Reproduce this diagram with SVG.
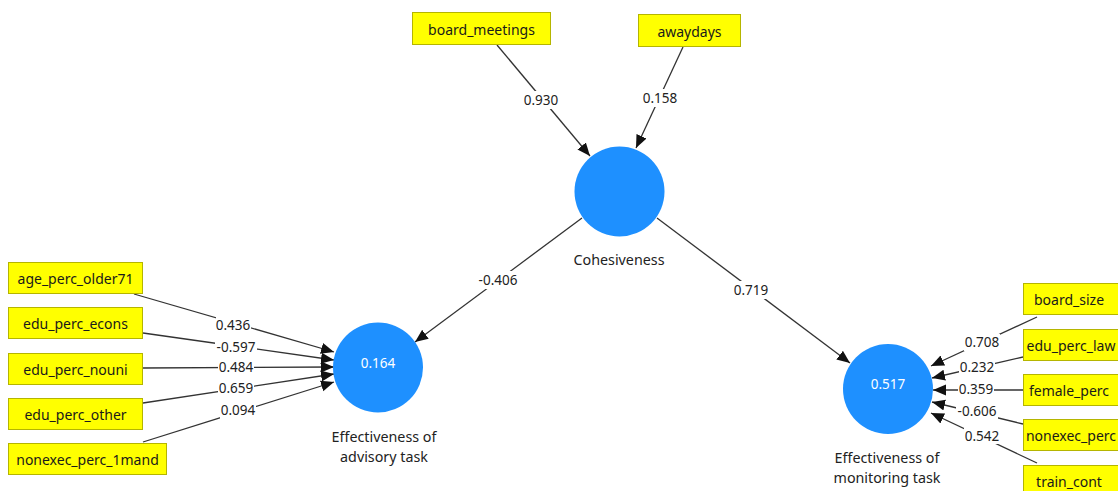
<svg xmlns="http://www.w3.org/2000/svg" width="1118" height="491" viewBox="0 0 1118 491">
<style>
.box{fill:#FFFF00;stroke:#B5B500;stroke-width:1}
.bt{font-family:"Noto Sans","DejaVu Sans",sans-serif;font-size:14px;fill:#1a1a1a;text-anchor:middle;dominant-baseline:central}
.lv{fill:#1E90FF}
.lvt{font-family:"Noto Sans","DejaVu Sans",sans-serif;font-size:13.5px;fill:#ffffff;text-anchor:middle;dominant-baseline:central}
.cap{font-family:"Noto Sans","DejaVu Sans",sans-serif;font-size:14.3px;fill:#222;text-anchor:middle}
.ln{stroke:#333;stroke-width:1.3;fill:none;marker-end:url(#ah)}
.lb{font-family:"Noto Sans","DejaVu Sans",sans-serif;font-size:13.5px;fill:#222;text-anchor:middle;dominant-baseline:central}
.bg{fill:#ffffff}
</style>
<defs>
<marker id="ah" markerUnits="userSpaceOnUse" markerWidth="15" markerHeight="13" refX="13" refY="5.5" orient="auto">
<path d="M0,0 L13,5.5 L0,11 Z" fill="#111"/>
</marker>
</defs>
<rect width="1118" height="491" fill="#ffffff"/>
<g id="connectors">
<line class="ln" x1="497" y1="45" x2="590" y2="156"/>
<line class="ln" x1="683" y1="47" x2="636" y2="148"/>
<line class="ln" x1="582" y1="218" x2="415" y2="342"/>
<line class="ln" x1="657" y1="218" x2="850" y2="363"/>
<line class="ln" x1="134" y1="294" x2="334" y2="352"/>
<line class="ln" x1="143" y1="333" x2="334" y2="360"/>
<line class="ln" x1="143" y1="368" x2="334" y2="367"/>
<line class="ln" x1="143" y1="403" x2="334" y2="374"/>
<line class="ln" x1="143" y1="442" x2="334" y2="382"/>
<line class="ln" x1="1037" y1="317" x2="931" y2="366"/>
<line class="ln" x1="1023" y1="357" x2="932" y2="378"/>
<line class="ln" x1="1023" y1="390" x2="933" y2="390"/>
<line class="ln" x1="1023" y1="424" x2="932" y2="402"/>
<line class="ln" x1="1037" y1="463" x2="931" y2="413"/>
<g id="labels">
<rect class="bg" x="523" y="91" width="36" height="18"/><text class="lb" x="541" y="100">0.930</text>
<rect class="bg" x="642" y="89" width="36" height="18"/><text class="lb" x="660" y="98">0.158</text>
<rect class="bg" x="477" y="271" width="42" height="18"/><text class="lb" x="498" y="280">-0.406</text>
<rect class="bg" x="733" y="281" width="36" height="18"/><text class="lb" x="751" y="290">0.719</text>
<rect class="bg" x="216" y="317" width="35" height="16"/><text class="lb" x="233" y="325">0.436</text>
<rect class="bg" x="215" y="340" width="42" height="15"/><text class="lb" x="236" y="347">-0.597</text>
<rect class="bg" x="218" y="360" width="36" height="15"/><text class="lb" x="236" y="367">0.484</text>
<rect class="bg" x="218" y="380" width="36" height="16"/><text class="lb" x="236" y="388">0.659</text>
<rect class="bg" x="220" y="402" width="36" height="17"/><text class="lb" x="238" y="410">0.094</text>
<rect class="bg" x="964" y="334" width="36" height="17"/><text class="lb" x="982" y="342">0.708</text>
<rect class="bg" x="959" y="359" width="36" height="16"/><text class="lb" x="977" y="367">0.232</text>
<rect class="bg" x="958" y="381" width="36" height="16"/><text class="lb" x="976" y="389">0.359</text>
<rect class="bg" x="956" y="403" width="42" height="17"/><text class="lb" x="977" y="411">-0.606</text>
<rect class="bg" x="964" y="427" width="36" height="17"/><text class="lb" x="982" y="436">0.542</text>
</g>
</g>
<g id="n-cohesiveness">
<circle class="lv" cx="619.5" cy="191.5" r="45"/>
<text class="cap" x="619" y="265">Cohesiveness</text>
</g>
<g id="n-advisory">
<circle class="lv" cx="378" cy="367.5" r="45"/>
<text class="lvt" x="378" y="363">0.164</text>
<text class="cap" x="384" y="442">Effectiveness of</text>
<text class="cap" x="384" y="462">advisory task</text>
</g>
<g id="n-monitoring">
<circle class="lv" cx="888" cy="389" r="45"/>
<text class="lvt" x="888" y="384">0.517</text>
<text class="cap" x="887" y="463">Effectiveness of</text>
<text class="cap" x="887" y="483">monitoring task</text>
</g>
<g id="n-board_meetings"><rect class="box" x="412.5" y="12.5" width="138" height="32"/><text class="bt" x="481.5" y="29">board_meetings</text></g>
<g id="n-awaydays"><rect class="box" x="638.5" y="14.5" width="102" height="32"/><text class="bt" x="689.5" y="31">awaydays</text></g>
<g id="n-age_perc_older71"><rect class="box" x="8.5" y="262.5" width="134" height="31"/><text class="bt" x="75.5" y="278">age_perc_older71</text></g>
<g id="n-edu_perc_econs"><rect class="box" x="8.5" y="307.5" width="134" height="31"/><text class="bt" x="75.5" y="323">edu_perc_econs</text></g>
<g id="n-edu_perc_nouni"><rect class="box" x="8.5" y="353.5" width="134" height="31"/><text class="bt" x="75.5" y="369">edu_perc_nouni</text></g>
<g id="n-edu_perc_other"><rect class="box" x="8.5" y="398.5" width="134" height="31"/><text class="bt" x="75.5" y="414">edu_perc_other</text></g>
<g id="n-nonexec_perc_1mand"><rect class="box" x="8.5" y="443.5" width="158" height="31"/><text class="bt" x="87.5" y="459">nonexec_perc_1mand</text></g>
<g id="n-board_size"><rect class="box" x="1023.5" y="283.5" width="100" height="31"/><text class="bt" x="1069" y="299">board_size</text></g>
<g id="n-edu_perc_law"><rect class="box" x="1023.5" y="329.5" width="100" height="31"/><text class="bt" x="1071" y="345">edu_perc_law</text></g>
<g id="n-female_perc"><rect class="box" x="1023.5" y="374.5" width="100" height="31"/><text class="bt" x="1069" y="390">female_perc</text></g>
<g id="n-nonexec_perc"><rect class="box" x="1023.5" y="419.5" width="100" height="31"/><text class="bt" x="1071" y="435">nonexec_perc</text></g>
<g id="n-train_cont"><rect class="box" x="1023.5" y="465.5" width="100" height="31"/><text class="bt" x="1069" y="481">train_cont</text></g>
</svg>
